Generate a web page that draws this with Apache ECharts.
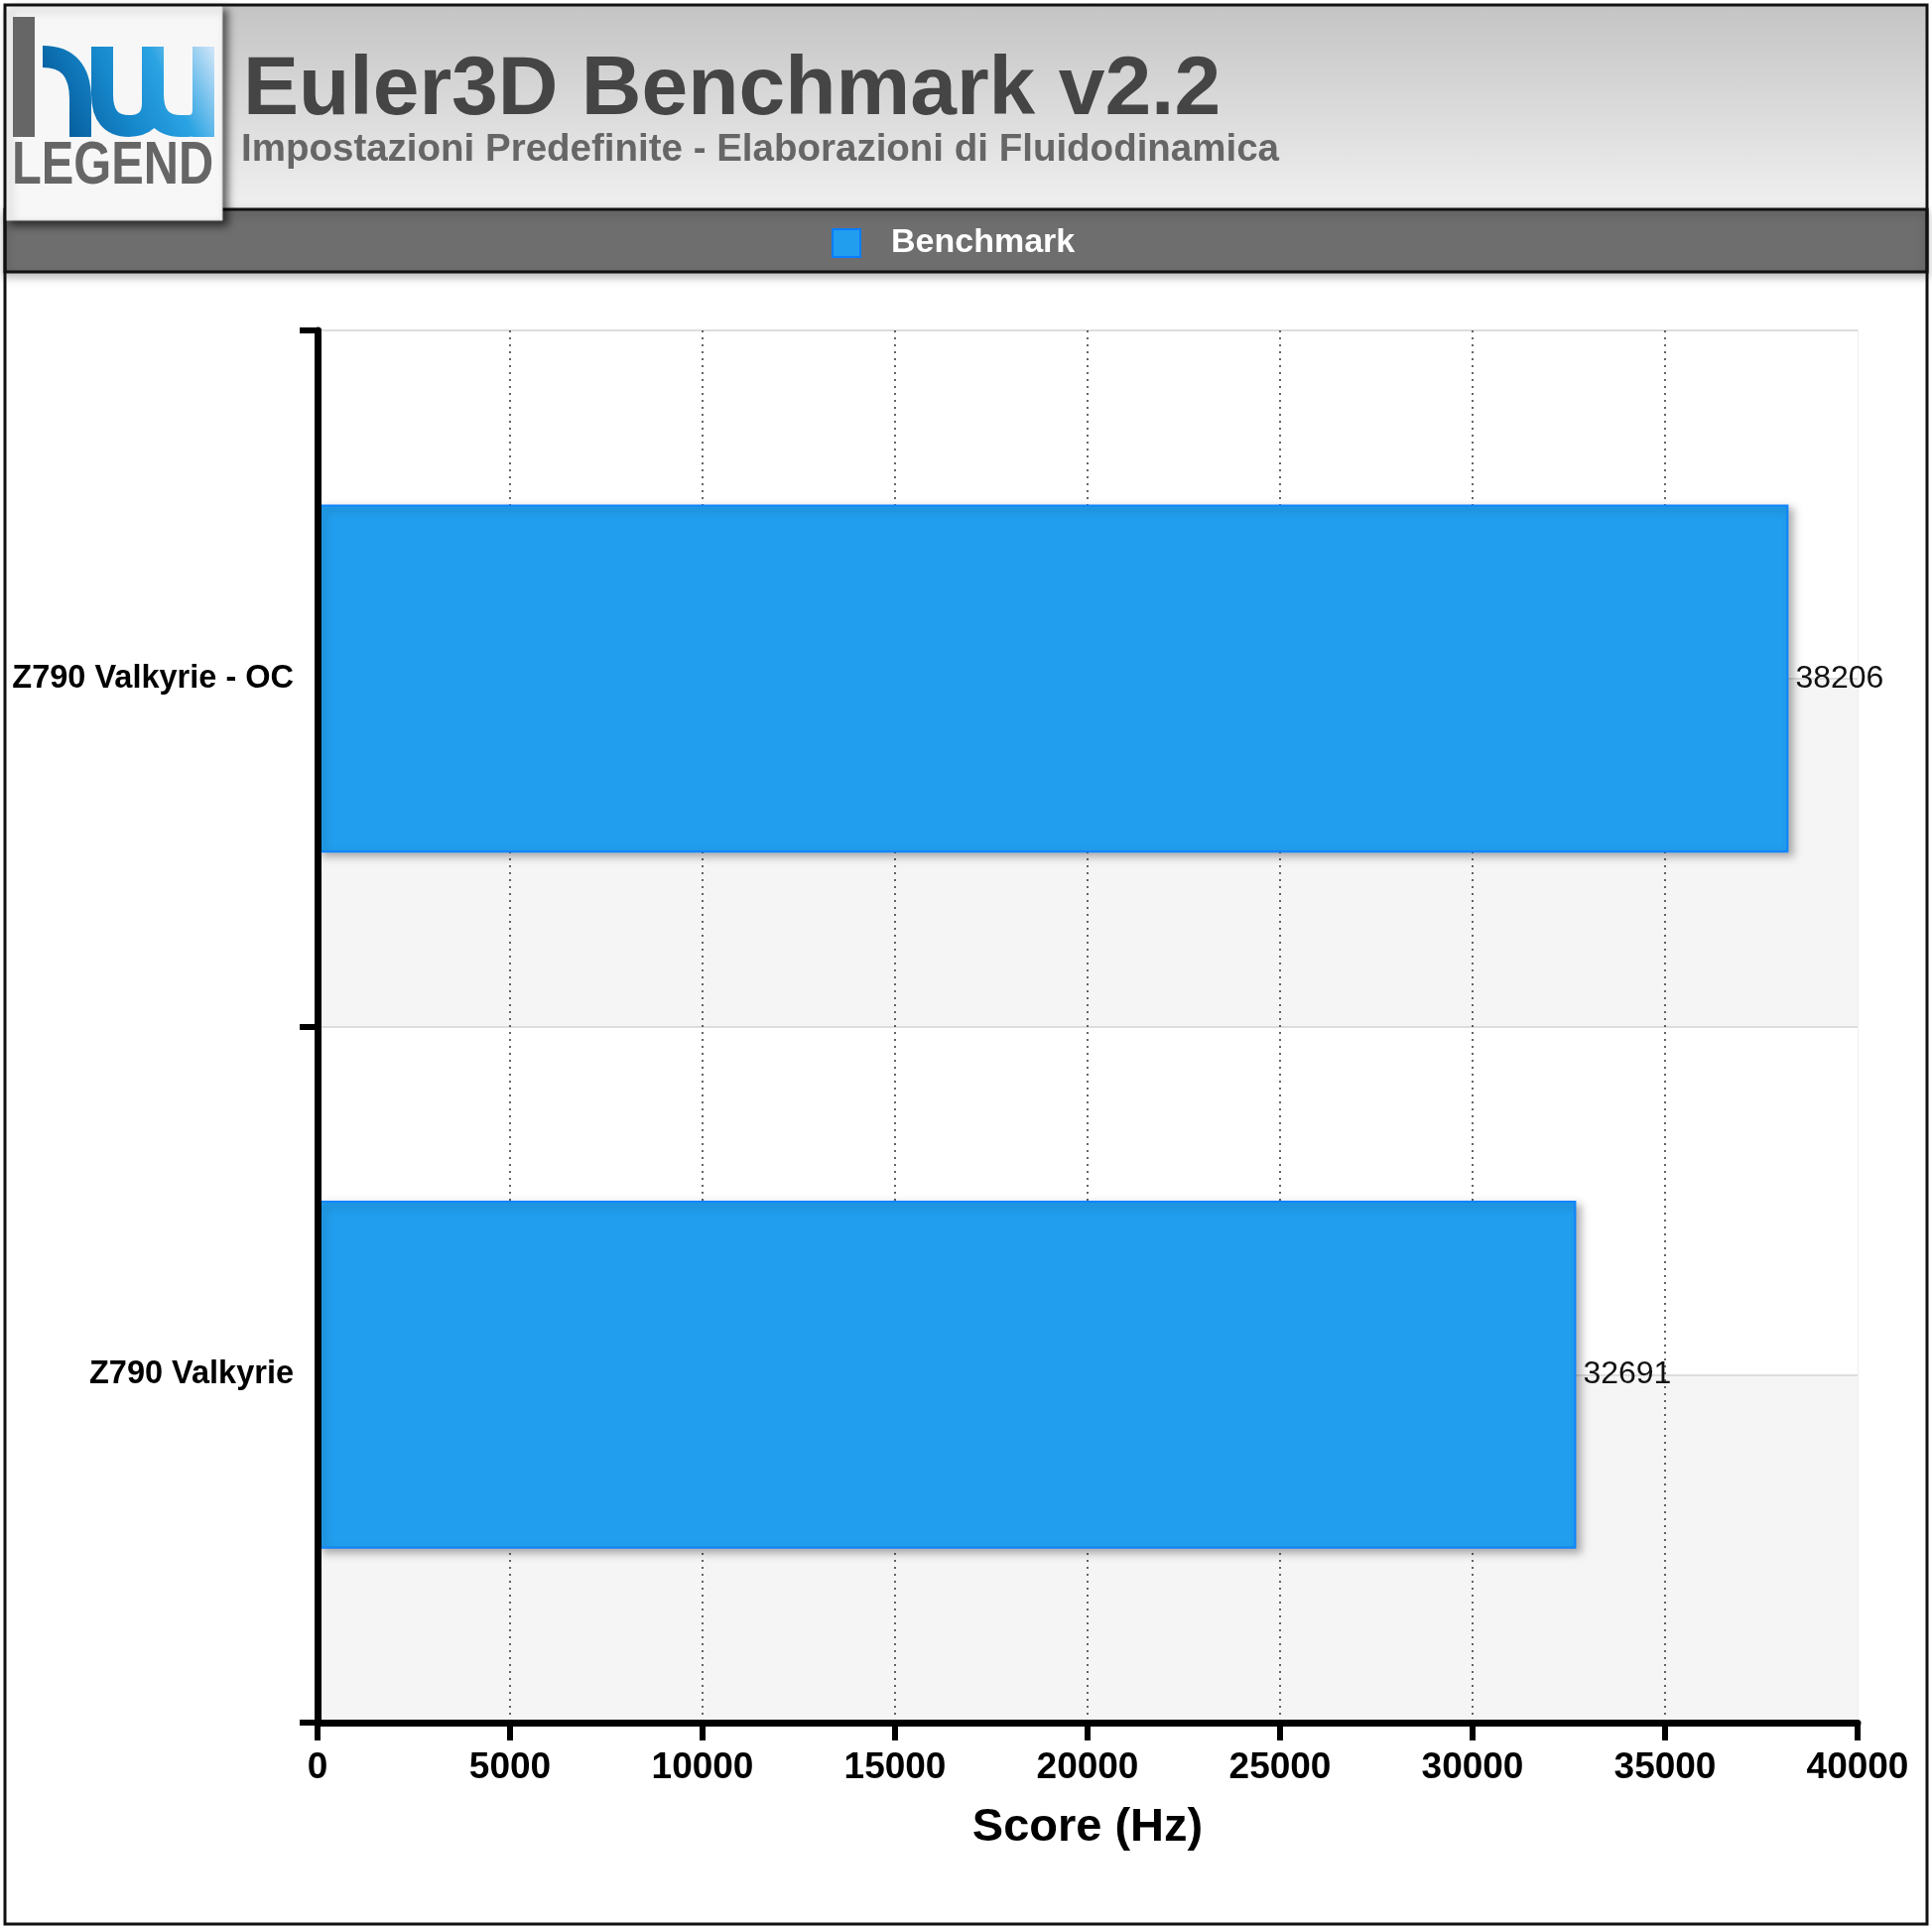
<!DOCTYPE html>
<html>
<head>
<meta charset="utf-8">
<script src="https://cdn.jsdelivr.net/npm/echarts@6/dist/echarts.min.js"></script>
<style>
html,body{margin:0;padding:0;background:#fff;}
#chart{width:1947px;height:1945px;}
</style>
</head>
<body>
<div id="chart"></div>
<script>
const titleText = 'Euler3D Benchmark v2.2';
const subtitleText = 'Impostazioni Predefinite - Elaborazioni di Fluidodinamica';
const seriesName = 'Benchmark';
const categories = ['Z790 Valkyrie - OC', 'Z790 Valkyrie'];
const scores = [38206, 32691];
const axisName = 'Score (Hz)';
const xMin = 0, xMax = 40000, xStep = 5000;

const FONT = '"Liberation Sans", Arial, Helvetica, sans-serif';
const chart = echarts.init(document.getElementById('chart'), null, {renderer: 'canvas'});

function blueGrad() {
  return new echarts.graphic.LinearGradient(40, 138, 216, 47, [
    {offset: 0, color: '#004c8a'}, {offset: 0.45, color: '#1688cc'},
    {offset: 0.7, color: '#2aa3e3'}, {offset: 1, color: '#d2e6f8'}], true);
}
function stroke() { return {fill: null, lineWidth: 22, stroke: blueGrad(), lineCap: 'butt'}; }
function bz(x1, y1, cx, cy, x2, y2) {
  return {type: 'bezierCurve', z: 7, shape: {x1: x1, y1: y1, cpx1: cx, cpy1: cy, x2: x2, y2: y2}, style: stroke()};
}
function ln(x1, y1, x2, y2) {
  return {type: 'line', z: 7, shape: {x1: x1, y1: y1, x2: x2, y2: y2}, style: stroke()};
}
const logoStrokes = [
  // h arch + leg
  bz(43, 57, 81, 57, 81, 100), ln(81, 99, 81, 138),
  // w left stem + first bowl
  ln(103, 47, 103, 96), bz(103, 95, 103, 127, 130, 127), bz(129, 127, 154, 127, 154, 104),
  // w middle stem
  ln(154, 47, 154, 106),
  // second bowl + right stem
  bz(154, 95, 154, 127, 182, 127), ln(181, 127, 190, 127), bz(189, 127, 205, 127, 205, 110),
  ln(205, 47, 205, 138)
];

const option = {
  backgroundColor: '#ffffff',
  animation: false,
  textStyle: {fontFamily: FONT},
  graphic: [
    {type: 'rect', z: 0, shape: {x: 5, y: 5, width: 1937, height: 206},
      style: {fill: new echarts.graphic.LinearGradient(0, 0, 0, 1, [
        {offset: 0, color: '#c4c4c4'}, {offset: 1, color: '#f0f0f0'}])}},
    {type: 'rect', z: 1, shape: {x: 5, y: 211, width: 1937, height: 63},
      style: {fill: '#6e6e6e', stroke: '#111', lineWidth: 3,
        shadowBlur: 8, shadowOffsetY: 4, shadowColor: 'rgba(0,0,0,0.25)'}},
    {type: 'rect', z: 20, shape: {x: 5, y: 5, width: 1937, height: 1934},
      style: {fill: null, stroke: '#111', lineWidth: 3}},
    {type: 'text', z: 5, style: {x: 245, y: 92, text: titleText, fill: '#454545',
      font: 'bold 84px ' + FONT, textAlign: 'left', textVerticalAlign: 'middle'}},
    {type: 'text', z: 5, style: {x: 243, y: 151, text: subtitleText, fill: '#666666',
      font: 'bold 38.5px ' + FONT, textAlign: 'left', textVerticalAlign: 'middle'}},
    {type: 'rect', z: 6, shape: {x: 5, y: 5, width: 219, height: 217},
      style: {fill: '#f7f7f7', stroke: '#d0d0d0', lineWidth: 1,
        shadowBlur: 8, shadowOffsetX: 5, shadowOffsetY: 5, shadowColor: 'rgba(0,0,0,0.6)'}},
    {type: 'rect', z: 7, shape: {x: 13, y: 17, width: 22, height: 121}, style: {fill: '#666666'}},
    ...logoStrokes,
    {type: 'text', z: 7, x: 12, y: 168, scaleX: 0.8, scaleY: 1,
      style: {x: 0, y: 0, text: 'LEGEND', fill: '#666666', font: 'bold 61px ' + FONT,
        textAlign: 'left', textVerticalAlign: 'middle'}}
  ],
  legend: {
    data: [seriesName], left: 833, top: 223, itemWidth: 28, itemHeight: 28,
    icon: 'rect', itemGap: 10,
    itemStyle: {borderColor: '#0a7cff', borderWidth: 2},
    textStyle: {color: '#ffffff', fontSize: 34, fontWeight: 'bold', fontFamily: FONT, padding: [0, 0, 0, 26]}
  },
  grid: {left: 320, right: 75, top: 333, bottom: 209, show: true,
    borderColor: '#eeeeee', borderWidth: 2, backgroundColor: 'transparent'},
  xAxis: {
    type: 'value', min: xMin, max: xMax, interval: xStep, z: 1,
    axisLine: {show: true, onZero: false, lineStyle: {color: '#000', width: 7}},
    axisTick: {show: true, length: 18, lineStyle: {color: '#000', width: 6}},
    axisLabel: {color: '#000', fontSize: 37, fontWeight: 'bold', margin: 27, fontFamily: FONT,
      formatter: function (v) { return String(v); }},
    splitLine: {show: true, showMinLine: false, showMaxLine: false,
      lineStyle: {color: '#333', width: 1.5, type: [2, 5]}},
    name: axisName, nameLocation: 'middle', nameGap: 83,
    nameTextStyle: {color: '#000', fontSize: 47, fontWeight: 'bold', fontFamily: FONT}
  },
  yAxis: [
    {
      type: 'category', data: categories, inverse: true, z: 3,
      axisLine: {show: true, lineStyle: {color: '#000', width: 7}},
      axisTick: {show: true, length: 18, lineStyle: {color: '#000', width: 6}},
      axisLabel: {color: '#000', fontSize: 32.5, fontWeight: 'bold', margin: 24, fontFamily: FONT},
      splitLine: {show: false}
    },
    {
      type: 'value', min: 0, max: 4, interval: 1, position: 'right', z: 0,
      axisLine: {show: false}, axisTick: {show: false}, axisLabel: {show: false},
      splitLine: {show: true, lineStyle: {color: '#dddddd', width: 2}},
      splitArea: {show: true, areaStyle: {color: ['#f5f5f5', '#ffffff']}}
    }
  ],
  series: [{
    name: seriesName, type: 'bar', data: scores, yAxisIndex: 0, barWidth: '50%',
    itemStyle: {color: '#219eee', borderColor: '#0f84ff', borderWidth: 2,
      shadowBlur: 8, shadowOffsetX: 5, shadowOffsetY: 4, shadowColor: 'rgba(0,0,0,0.3)'},
    label: {show: true, position: 'right', distance: 7, color: '#111', fontSize: 32, fontFamily: FONT}
  }]
};
chart.setOption(option);
</script>
</body>
</html>
